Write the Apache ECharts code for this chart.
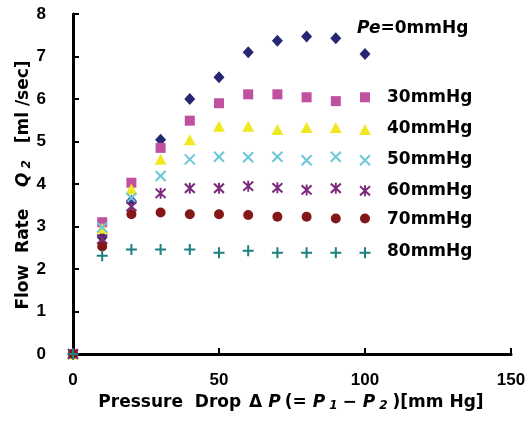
<!DOCTYPE html>
<html><head><meta charset="utf-8">
<script src="https://cdn.jsdelivr.net/npm/echarts@6/dist/echarts.min.js"></script>
<style>html,body{margin:0;padding:0;background:#fff}#c{width:530px;height:434px}</style>
</head><body><div id="c"></div>
<script>
const xValues = [0, 10, 20, 30, 40, 50, 60, 70, 80, 90, 100];
const pe0  = [0, 2.75, 3.60, 5.04, 6.00, 6.51, 7.10, 7.37, 7.47, 7.43, 7.06];
const pe30 = [0, 3.10, 4.03, 4.85, 5.49, 5.90, 6.11, 6.11, 6.04, 5.95, 6.04];
const pe40 = [0, 2.96, 3.88, 4.58, 5.04, 5.36, 5.36, 5.28, 5.33, 5.33, 5.28];
const pe50 = [0, 2.98, 3.67, 4.19, 4.58, 4.64, 4.63, 4.64, 4.56, 4.64, 4.56];
const pe60 = [0, 2.70, 3.47, 3.78, 3.90, 3.90, 3.95, 3.91, 3.86, 3.90, 3.84];
const pe70 = [0, 2.53, 3.29, 3.33, 3.29, 3.29, 3.27, 3.23, 3.23, 3.19, 3.19];
const pe80 = [0, 2.31, 2.46, 2.46, 2.46, 2.38, 2.43, 2.38, 2.38, 2.38, 2.38];
const seriesLabels = ['30mmHg', '40mmHg', '50mmHg', '60mmHg', '70mmHg', '80mmHg'];
const xTicks = [0, 50, 100, 150];
const yTicks = [0, 1, 2, 3, 4, 5, 6, 7, 8];

const pair = arr => xValues.map((x, i) => [x, arr[i]]);
const crossPath = 'path://M0 0L10 10M10 0L0 10';
const starPath = 'path://M0 0L10 10M10 0L0 10M5 -1L5 11';
const plusPath = 'path://M5 0L5 10M0 5L10 5';

const specs = [
  {d: pe0, sym: 'diamond', size: [11, 12], color: '#262673'},
  {d: pe30, sym: 'rect', size: 10, color: '#c050a0'},
  {d: pe40, sym: 'triangle', size: [12, 11], color: '#f0e820'},
  {d: pe50, sym: crossPath, size: 10, color: '#6cc8d8', stroke: true},
  {d: pe60, sym: starPath, size: [10, 11], color: '#7b2a7b', stroke: true},
  {d: pe70, sym: 'circle', size: 10, color: '#841818'},
  {d: pe80, sym: plusPath, size: 11, color: '#1a8080', stroke: true}
];

const series = specs.map(s => ({
  type: 'scatter',
  data: pair(s.d),
  symbol: s.sym,
  symbolSize: s.size,
  itemStyle: s.stroke ? {color: s.color, borderColor: s.color, borderWidth: 2, opacity: 1}
                      : {color: s.color, opacity: 1},
  emphasis: {disabled: true},
  animation: false
}));

const labelY = [98, 129, 160, 191, 220, 252];
const graphics = [{
  type: 'text', left: 357, top: 20,
  style: {
    text: '{i|Pe}=0mmHg',
    font: 'bold 17px "DejaVu Sans"', fill: '#000',
    rich: {i: {fontStyle: 'italic', fontWeight: 'bold', fontSize: 17, fontFamily: 'DejaVu Sans'}}
  }
}].concat(seriesLabels.map((t, i) => ({
  type: 'text', left: 387, top: labelY[i] - 9,
  style: {text: t, font: 'bold 17px "DejaVu Sans"', fill: '#000'}
})));

const richTitle = {
  i: {fontStyle: 'italic', fontSize: 17, fontWeight: 'bold', fontFamily: 'DejaVu Sans', color: '#000', padding: [0, 2, 0, 4]},
  s: {fontStyle: 'italic', fontSize: 12, fontWeight: 'bold', fontFamily: 'DejaVu Sans', color: '#000', padding: [6, 3, 0, 2]},
  n: {fontSize: 17, fontWeight: 'bold', fontFamily: 'DejaVu Sans', color: '#000', padding: [0, 2, 0, 2]}
};

const chart = echarts.init(document.getElementById('c'), null, {renderer: 'canvas'});
chart.setOption({
  animation: false,
  backgroundColor: '#fff',
  grid: {left: 73, right: 19, top: 14, bottom: 80, containLabel: false},
  xAxis: {
    type: 'value', min: xTicks[0], max: xTicks[xTicks.length - 1], interval: 50,
    splitLine: {show: false},
    axisLine: {show: true, lineStyle: {color: '#000', width: 3}},
    axisTick: {show: true, inside: true, length: 6, lineStyle: {color: '#000', width: 2}},
    axisLabel: {margin: 18, color: '#000', fontSize: 17, fontWeight: 'bold',
      fontFamily: '"Liberation Sans Narrow", "Liberation Sans", sans-serif'},
    name: 'Pressure  Drop {n|Δ}{i|P}{n|(=}{i|P}{s|1}{n|−}{i|P}{s|2}{n|)[mm Hg]}',
    nameLocation: 'middle', nameGap: 36,
    nameTextStyle: {
      color: '#000', fontSize: 17, fontWeight: 'bold', fontFamily: 'DejaVu Sans',
      rich: richTitle
    }
  },
  yAxis: {
    type: 'value', min: yTicks[0], max: yTicks[yTicks.length - 1], interval: 1,
    splitLine: {show: false},
    axisLine: {show: true, lineStyle: {color: '#000', width: 3}},
    axisTick: {show: true, inside: true, length: 6, lineStyle: {color: '#000', width: 2}},
    axisLabel: {margin: 27, color: '#000', fontSize: 17, fontWeight: 'bold',
      fontFamily: '"Liberation Sans Narrow", "Liberation Sans", sans-serif'},
    name: 'Flow  Rate   {i|Q}{s|2}  {n|[ml /sec]}',
    nameLocation: 'middle', nameGap: 40, nameRotate: 90, nameMoveOverlap: false,
    nameTextStyle: {
      color: '#000', fontSize: 17, fontWeight: 'bold', fontFamily: 'DejaVu Sans',
      rich: richTitle
    }
  },
  series: series,
  graphic: graphics
});
</script>
</body></html>
